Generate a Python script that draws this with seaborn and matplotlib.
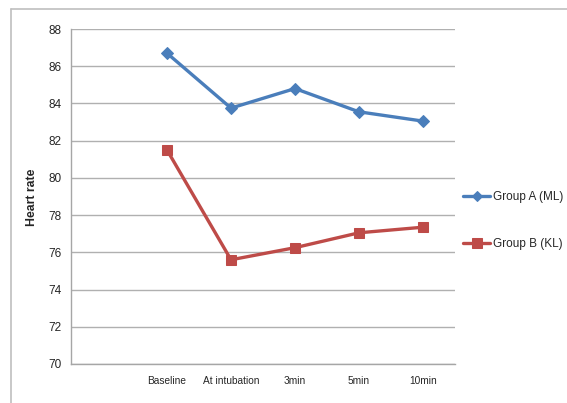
import matplotlib
matplotlib.use("Agg")
import matplotlib.pyplot as plt
from matplotlib.lines import Line2D
import numpy as np
import pandas as pd
import seaborn as sns

# ---- data ----
slot_labels = ["", "Baseline", "At intubation", "3min", "5min", "10min"]
time_points = ["Baseline", "At intubation", "3min", "5min", "10min"]
group_a = [86.7, 83.75, 84.8, 83.55, 83.05]
group_b = [81.5, 75.6, 76.25, 77.05, 77.35]
series_names = ["Group A (ML)", "Group B (KL)"]
y_ticks = [70, 72, 74, 76, 78, 80, 82, 84, 86, 88]

colors = ["#4A7EBB", "#BE4B48"]
markers = ["D", "s"]

rows = []
for name, vals in zip(series_names, [group_a, group_b]):
    for tp, v in zip(time_points, vals):
        rows.append({"time": tp, "pos": slot_labels.index(tp) + 0.5,
                     "hr": v, "group": name})
df = pd.DataFrame(rows)

sns.set_style("white")
plt.rcParams["font.family"] = ["Liberation Sans", "DejaVu Sans"]

W, H, DPI = 567, 403, 100
fig = plt.figure(figsize=(W / DPI, H / DPI), dpi=DPI)
ax = fig.add_axes([71 / W, 1 - 364 / H, (455 - 71) / W, (364 - 29) / H])

for name, c, m, ms in zip(series_names, colors, markers, [6, 7.5]):
    sub = df[df["group"] == name]
    sns.lineplot(data=sub, x="pos", y="hr", ax=ax, color=c, marker=m,
                 markersize=ms, markeredgecolor=c, linewidth=2.4,
                 label=name, zorder=3)

ax.set_xlim(0, len(slot_labels))
ax.set_ylim(y_ticks[0], y_ticks[-1])
ax.set_yticks(y_ticks)
ax.set_yticklabels([str(t) for t in y_ticks], fontsize=8.5)
ax.yaxis.grid(True, color="#B0B0B0", linewidth=1.0)
ax.set_axisbelow(True)

ax.set_xticks(np.arange(len(slot_labels) + 1))
ax.set_xticklabels([])
ax.set_xticks(np.arange(len(slot_labels)) + 0.5, minor=True)
ax.set_xticklabels(slot_labels, minor=True, fontsize=7.3)
ax.tick_params(axis="x", which="major", length=4, color="#A6A6A6", direction="out")
ax.tick_params(axis="x", which="minor", length=0, pad=9)
ax.tick_params(axis="y", length=4, color="#A6A6A6", direction="out", pad=3)
for s in ["top", "right"]:
    ax.spines[s].set_visible(False)
for s in ["left", "bottom"]:
    ax.spines[s].set_color("#A6A6A6")
    ax.spines[s].set_linewidth(1.0)

ax.set_xlabel("")
ax.set_ylabel("Heart rate", fontsize=8.8, fontweight="bold")
ax.yaxis.set_label_coords(38 / W, 1 - 197 / H, transform=fig.transFigure)

leg = ax.legend(loc="center left", bbox_to_anchor=(463 / W, 1 - 220.5 / H),
                bbox_transform=fig.transFigure, frameon=False,
                fontsize=8.5, handlelength=2.3, labelspacing=2.95,
                handletextpad=0.25, borderaxespad=0.0, borderpad=0.0)
for h, ms in zip(leg.legend_handles, [5, 7]):
    h.set_markersize(ms)

# outer chart border
fig.add_artist(Line2D([11 / W, 1], [1 - 9 / H, 1 - 9 / H], color="#BFBFBF",
                      linewidth=1.2, transform=fig.transFigure))
fig.add_artist(Line2D([11 / W, 11 / W], [0, 1 - 9 / H], color="#BFBFBF",
                      linewidth=1.2, transform=fig.transFigure))

fig.savefig("out.png", dpi=DPI)
